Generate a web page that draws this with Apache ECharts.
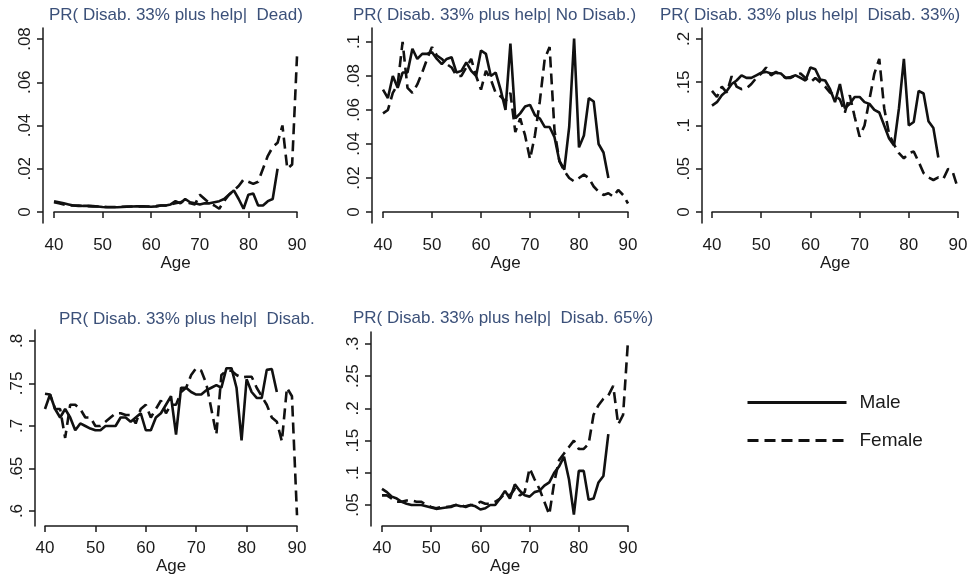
<!DOCTYPE html>
<html>
<head>
<meta charset="utf-8">
<script src="https://cdn.jsdelivr.net/npm/echarts@6/dist/echarts.min.js"></script>
<style>
html,body{margin:0;padding:0;background:#fff;}
#main{width:973px;height:576px;}
</style>
</head>
<body>
<div id="main"></div>
<script>
// ages 40..90
var ages = [40,41,42,43,44,45,46,47,48,49,50,51,52,53,54,55,56,57,58,59,60,61,62,63,64,65,66,67,68,69,70,71,72,73,74,75,76,77,78,79,80,81,82,83,84,85,86,87,88,89,90];

// PR( Disab. 33% plus help | Dead)
var deadMale = [.005,.0045,.004,.0035,.003,.003,.0028,.0028,.0027,.0025,.0023,.0022,.0022,.0022,.0023,.0024,.0025,.0026,.0026,.0025,.0024,.0026,.003,.003,.0035,.005,.004,.006,.0045,.004,.0035,.004,.004,.0045,.005,.006,.008,.01,.006,.0015,.008,.0085,.003,.003,.005,.006,.02];
var deadFemale = [.0045,.004,.0035,.003,.003,.0028,.0027,.0027,.0026,.0025,.0024,.0023,.0023,.0023,.0024,.0025,.0025,.0026,.0026,.0025,.0025,.0027,.003,.003,.0035,.004,.0045,.005,.004,.0035,.008,.006,.004,.003,.0015,.005,.008,.01,.012,.015,.014,.013,.014,.02,.026,.03,.032,.04,.02,.022,.072];

// PR( Disab. 33% plus help | No Disab.)
var noDisMale = [.072,.067,.08,.073,.082,.082,.096,.09,.093,.093,.094,.09,.087,.09,.091,.082,.083,.088,.083,.08,.095,.093,.08,.082,.072,.06,.099,.055,.058,.062,.063,.057,.055,.05,.05,.044,.03,.025,.05,.102,.038,.045,.067,.065,.04,.035,.02];
var noDisFemale = [.058,.06,.07,.075,.1,.073,.07,.075,.082,.09,.097,.092,.09,.087,.085,.08,.08,.085,.09,.08,.072,.083,.078,.07,.068,.065,.07,.047,.055,.045,.031,.045,.065,.09,.097,.048,.03,.024,.02,.018,.02,.022,.02,.015,.012,.01,.011,.009,.013,.01,.005];

// PR( Disab. 33% plus help | Disab. 33%)
var dis33Male = [.123,.127,.135,.14,.148,.152,.158,.155,.155,.158,.161,.162,.16,.161,.16,.155,.156,.158,.155,.152,.167,.165,.153,.152,.142,.127,.148,.12,.125,.133,.133,.127,.125,.118,.115,.1,.085,.077,.12,.177,.1,.104,.14,.137,.105,.097,.063];
var dis33Female = [.14,.133,.145,.138,.157,.145,.142,.143,.148,.155,.16,.167,.158,.162,.158,.155,.155,.158,.16,.155,.15,.155,.15,.145,.138,.135,.13,.115,.135,.11,.087,.1,.13,.16,.177,.12,.09,.078,.068,.062,.068,.07,.058,.045,.04,.037,.04,.038,.05,.045,.027];

// PR( Disab. 33% plus help | Disab. 33% plus help)
var helpMale = [.72,.737,.72,.71,.72,.71,.695,.703,.7,.697,.695,.695,.7,.7,.7,.71,.71,.705,.71,.715,.695,.695,.71,.715,.725,.735,.69,.745,.745,.74,.737,.737,.742,.745,.748,.745,.768,.768,.745,.683,.755,.74,.733,.733,.766,.767,.74];
var helpFemale = [.738,.737,.72,.72,.686,.725,.725,.72,.71,.71,.7,.7,.705,.71,.715,.715,.713,.713,.703,.72,.725,.71,.72,.73,.715,.725,.725,.74,.745,.76,.768,.765,.75,.72,.69,.76,.765,.765,.76,.757,.758,.758,.745,.735,.725,.71,.705,.682,.745,.735,.595];

// PR( Disab. 33% plus help | Disab. 65%)
var dis65Male = [.075,.07,.063,.06,.055,.052,.05,.05,.05,.048,.046,.044,.045,.046,.047,.05,.048,.048,.05,.048,.043,.045,.05,.05,.06,.072,.06,.082,.072,.065,.063,.07,.072,.08,.085,.1,.11,.125,.09,.035,.103,.103,.058,.06,.085,.095,.16];
var dis65Female = [.065,.065,.06,.055,.055,.057,.057,.055,.055,.05,.047,.045,.047,.047,.048,.05,.05,.047,.05,.05,.055,.052,.052,.055,.06,.068,.065,.075,.065,.07,.107,.09,.075,.055,.035,.085,.12,.13,.14,.15,.137,.137,.145,.19,.205,.215,.22,.235,.175,.19,.305];

var xTicks = [40,50,60,70,80,90];
var yTicks1 = [0,.02,.04,.06,.08];
var yTicks2 = [0,.02,.04,.06,.08,.1];
var yTicks3 = [0,.05,.1,.15,.2];
var yTicks4 = [.6,.65,.7,.75,.8];
var yTicks5 = [.05,.1,.15,.2,.25,.3];

var titles = [
    'PR( Disab. 33% plus help|  Dead)',
    'PR( Disab. 33% plus help| No Disab.)',
    'PR( Disab. 33% plus help|  Disab. 33%)',
    'PR( Disab. 33% plus help|  Disab. 33% plus help)',
    'PR( Disab. 33% plus help|  Disab. 65%)'
];

var FONT = '"Liberation Sans", Arial, sans-serif';
var INK = '#1a1a1a';

function pairs(vals){
    var out = [];
    for (var i = 0; i < vals.length; i++){
        out.push([ages[i], vals[i]]);
    }
    return out;
}

function fmt(v){
    if (v === 0) return '0';
    return String(+v.toFixed(3)).replace(/^0/, '');
}

// layout of each panel
var panels = [
    {grid:{left:54, top:28, width:243, height:195}, min:-.0051, max:.0851, ticks:yTicks1, off:11,
     title:{left:49, top:7}, male:deadMale, female:deadFemale},
    {grid:{left:383, top:28, width:245, height:195}, min:-.00647, max:.1082, ticks:yTicks2, off:11,
     title:{left:353, top:7}, male:noDisMale, female:noDisFemale},
    {grid:{left:712, top:28, width:246, height:195}, min:-.0127, max:.2127, ticks:yTicks3, off:10,
     title:{left:660, top:7}, male:dis33Male, female:dis33Female},
    {grid:{left:45, top:330, width:252, height:196}, min:.5824, max:.8129, ticks:yTicks4, off:10,
     title:{left:59, top:311, width:272}, male:helpMale, female:helpFemale},
    {grid:{left:382, top:332, width:246, height:194}, min:.0174, max:.3186, ticks:yTicks5, off:11,
     title:{left:353, top:310}, male:dis65Male, female:dis65Female}
];

var grids = [], xAxes = [], yAxes = [], series = [], titleList = [];
for (var p = 0; p < panels.length; p++){
    var pn = panels[p];
    grids.push(pn.grid);
    var ts = {fontSize:17, fontWeight:'normal', color:'#3b5079', fontFamily:FONT};
    if (pn.title.width){
        ts.width = pn.title.width;
        ts.overflow = 'truncate';
        ts.ellipsis = '';
    }
    titleList.push({text:titles[p], left:pn.title.left, top:pn.title.top, padding:0, textStyle:ts});
    xAxes.push({
        type:'value', gridIndex:p, min:40, max:90, interval:10,
        name:'Age', nameLocation:'middle', nameGap:29,
        nameTextStyle:{fontSize:17, color:INK, fontFamily:FONT},
        axisLine:{show:true, lineStyle:{color:INK, width:1.5}},
        axisTick:{show:true, length:6, lineStyle:{color:INK, width:1.5}},
        axisLabel:{fontSize:17, color:INK, margin:14, fontFamily:FONT},
        splitLine:{show:false}
    });
    yAxes.push({
        type:'value', gridIndex:p, min:pn.min, max:pn.max, offset:pn.off,
        axisLine:{show:true, lineStyle:{color:INK, width:1.5}},
        axisTick:{show:true, length:6, customValues:pn.ticks, lineStyle:{color:INK, width:1.5}},
        axisLabel:{customValues:pn.ticks, rotate:90, fontSize:17, color:INK, margin:9,
                   fontFamily:FONT, formatter:fmt},
        splitLine:{show:false}
    });
    series.push({
        name:'Male', type:'line', xAxisIndex:p, yAxisIndex:p, symbol:'none',
        data:pairs(pn.male), lineStyle:{color:'#111', width:2.6, type:'solid'},
        itemStyle:{color:'#111'}
    });
    series.push({
        name:'Female', type:'line', xAxisIndex:p, yAxisIndex:p, symbol:'none',
        data:pairs(pn.female), lineStyle:{color:'#111', width:2.6, type:[11,6]},
        itemStyle:{color:'#111'}
    });
}

var chart = echarts.init(document.getElementById('main'));
chart.setOption({
    backgroundColor:'#fff',
    animation:false,
    title:titleList,
    legend:{
        data:['Male','Female'],
        orient:'vertical', left:746, top:393, padding:0,
        itemWidth:99, itemHeight:20, itemGap:19,
        itemStyle:{opacity:0},
        lineStyle:{width:3},
        textStyle:{fontSize:19, color:INK, fontFamily:FONT, padding:[0,0,0,8]}
    },
    grid:grids,
    xAxis:xAxes,
    yAxis:yAxes,
    series:series
});
</script>
</body>
</html>
